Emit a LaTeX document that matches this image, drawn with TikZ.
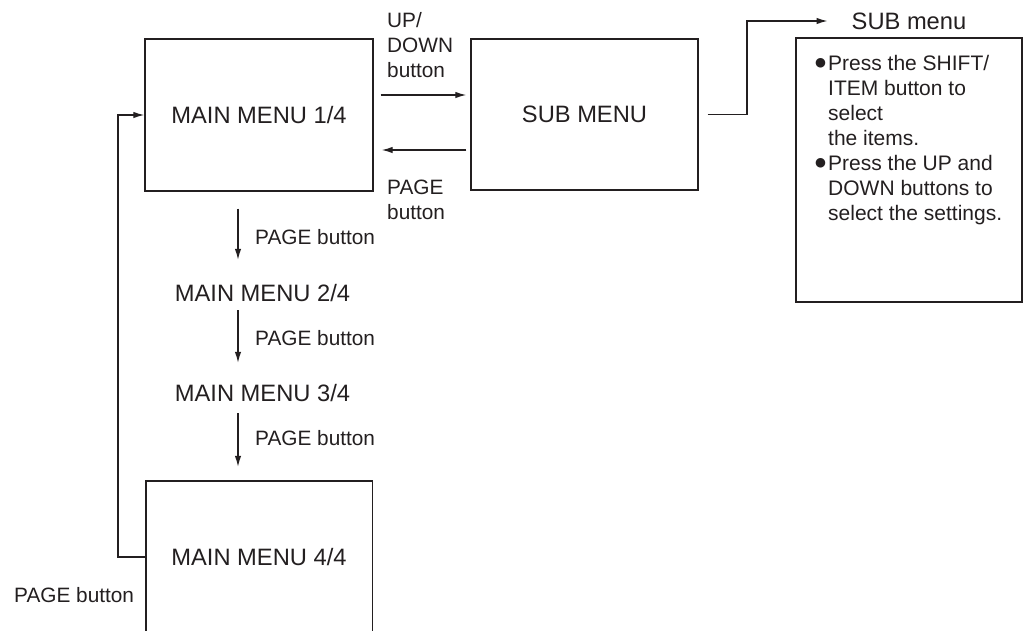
\documentclass[tikz,border=0pt]{standalone}
\usepackage{fontspec}
\setmainfont{Liberation Sans}
\newfontfamily\dejavu{DejaVu Sans}
\usetikzlibrary{arrows.meta}
\definecolor{ink}{HTML}{231F20}
\begin{document}
\begin{tikzpicture}[x=1pt,y=-1pt,
  menubox/.style={draw=ink, line width=1.4pt, inner sep=0pt, text=ink,
     font=\fontsize{23.7}{28}\selectfont},
  big/.style={inner sep=0pt, text=ink, font=\fontsize{23.7}{28}\selectfont,
     text height=17pt, text depth=0pt},
  lbl/.style={inner sep=0pt, text=ink, font=\fontsize{20.8}{25}\selectfont, align=left},
  arr/.style={-{Latex[length=11pt,width=6.5pt]}, line width=1.3pt, draw=ink},
  ln/.style={line width=1.3pt, draw=ink}]
\useasboundingbox (0,0) rectangle (1023,630);

% boxes
\node[menubox, minimum width=228pt, minimum height=152pt] (m1) at (259,115) {MAIN MENU 1/4};
\node[menubox, minimum width=227pt, minimum height=151pt] (sub) at (584.5,114.5) {SUB MENU};
\node[inner sep=0pt, minimum width=226pt, minimum height=152pt, text=ink,
      font=\fontsize{23.7}{28}\selectfont] (m4) at (259,557) {MAIN MENU 4/4};
\draw[ln, line width=1.4pt] (m4.south west) -- (m4.north west) -- (m4.north east) -- (m4.south east);
\node[draw=ink, line width=1.4pt, minimum width=226pt, minimum height=264pt, inner sep=0pt] (info) at (909,170) {};

% middle menus
\node[big] (m2) at (262.5,293) {MAIN MENU 2/4};
\node[big] (m3) at (262.5,393) {MAIN MENU 3/4};
\node[big] (subttl) at (909,21) {SUB menu};

% labels
\node[lbl, anchor=north west] (ud) at (387,12) {UP/\\DOWN\\button};
\node[lbl, anchor=north west] (pg) at (387,179.5) {PAGE\\button};
\node[lbl, anchor=west, text height=15pt, text depth=0pt] (p1) at (255,237) {PAGE button};
\node[lbl, anchor=west, text height=15pt, text depth=0pt] (p2) at (255,338) {PAGE button};
\node[lbl, anchor=west, text height=15pt, text depth=0pt] (p3) at (255,438) {PAGE button};
\node[lbl, anchor=west, text height=15pt, text depth=0pt] (p4) at (14,595) {PAGE button};

\node[lbl, anchor=north west, font=\fontsize{21}{25}\selectfont] (txt) at (815,55.5)
 {\makebox[13pt][l]{\raisebox{4pt}{\dejavu\fontsize{12.5}{12}\selectfont ●}}Press the SHIFT/\\
  \hspace*{13pt}ITEM button to\\
  \hspace*{13pt}select\\
  \hspace*{13pt}the items.\\
  \makebox[13pt][l]{\raisebox{4pt}{\dejavu\fontsize{12.5}{12}\selectfont ●}}Press the UP and\\
  \hspace*{13pt}DOWN buttons to\\
  \hspace*{13pt}select the settings.};

% horizontal connectors
\draw[arr, shorten <=7pt, shorten >=4pt] (m1.east |- 0,95) -- (sub.west |- 0,95);
\draw[arr, shorten <=4pt, shorten >=8pt] (sub.west |- 0,150) -- (m1.east |- 0,150);
\coordinate (bend) at (747,0);
\draw[arr, shorten <=9pt, shorten >=24pt] (sub.east) -| (bend |- subttl.west) -- (subttl.west);

% loop back
\coordinate (loop) at (118,0);
\draw[arr] (m4.west) -| (loop |- m1.west) -- (m1.west);

% vertical connectors
\coordinate (vx) at (238,0);
\draw[arr, shorten <=17pt, shorten >=24.5pt] (vx |- m1.south) -- (vx |- m2.north);
\draw[arr, shorten <=8.5pt, shorten >=21.5pt] (vx |- m2.south) -- (vx |- m3.north);
\draw[arr, shorten <=11.5pt, shorten >=14pt] (vx |- m3.south) -- (vx |- m4.north);
\end{tikzpicture}
\end{document}
